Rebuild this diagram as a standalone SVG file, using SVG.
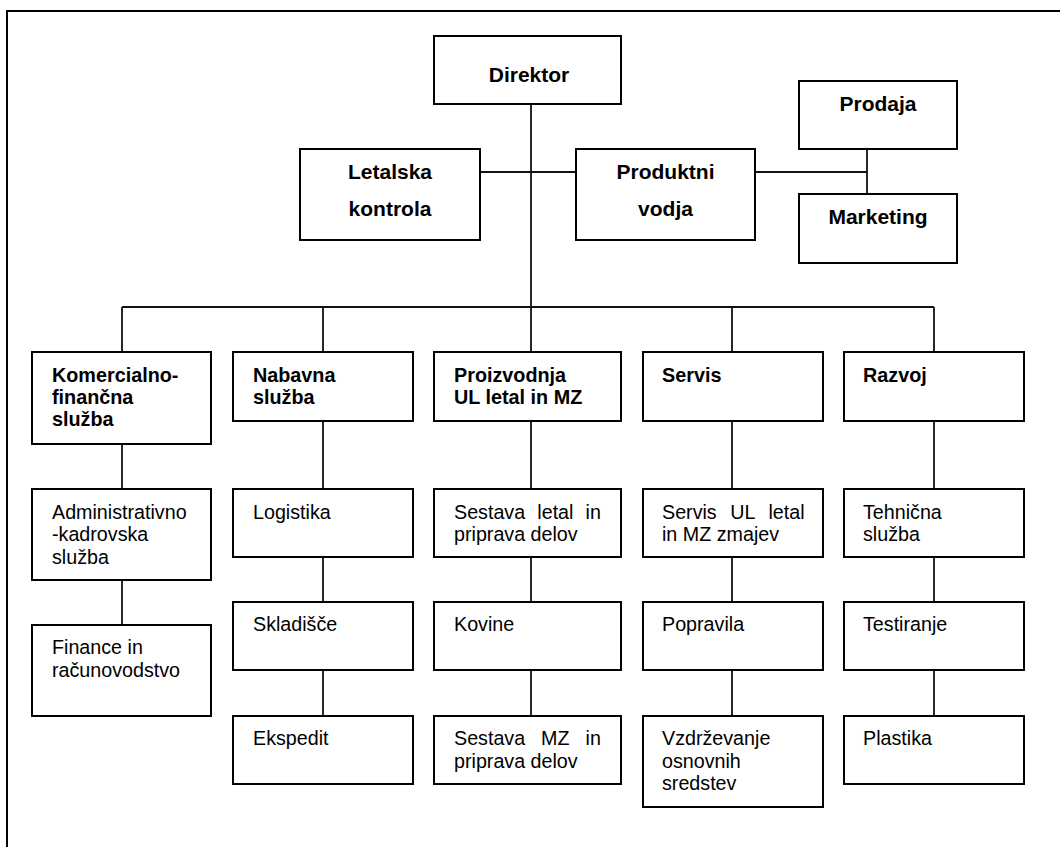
<svg xmlns="http://www.w3.org/2000/svg" width="1060" height="847" viewBox="0 0 1060 847">
  <style>
    .box { fill: #ffffff; stroke: #000000; stroke-width: 2; }
    .link { fill: none; stroke: #111111; stroke-width: 1.8; }
    .frame { fill: none; stroke: #000000; stroke-width: 2; }
    text { font-family: "Liberation Sans", Arial, sans-serif; fill: #000000; }
    .head { font-size: 21px; font-weight: bold; text-anchor: middle; }
    .dept { font-size: 19.8px; font-weight: bold; }
    .unit { font-size: 19.7px; }
  </style>
  <rect width="1060" height="847" fill="#ffffff"/>
  <!-- page frame -->
  <rect class="frame" x="7" y="11" width="1100" height="900"/>

  <!-- connectors -->
  <g id="connectors">
    <path class="link" d="M531 104 V352"/>
    <path class="link" d="M480 172 H576"/>
    <path class="link" d="M755 172 H867"/>
    <path class="link" d="M867 149 V194"/>
    <path class="link" d="M122 307 H934"/>
    <path class="link" d="M122 307 V352 M323 307 V352 M732 307 V352 M934 307 V352"/>
    <path class="link" d="M122 444 V489 M323 421 V489 M531 421 V489 M732 421 V489 M934 421 V489"/>
    <path class="link" d="M122 580 V625 M323 557 V602 M531 557 V602 M732 557 V602 M934 557 V602"/>
    <path class="link" d="M323 670 V716 M531 670 V716 M732 670 V716 M934 670 V716"/>
  </g>

  <!-- top management -->
  <g id="direktor">
    <rect class="box" x="434" y="36" width="187" height="68"/>
    <text class="head" x="529" y="82">Direktor</text>
  </g>
  <g id="letalska-kontrola">
    <rect class="box" x="300" y="149" width="180" height="91"/>
    <text class="head" x="390" y="179">Letalska</text>
    <text class="head" x="390" y="216">kontrola</text>
  </g>
  <g id="produktni-vodja">
    <rect class="box" x="576" y="149" width="179" height="91"/>
    <text class="head" x="665.5" y="179">Produktni</text>
    <text class="head" x="665.5" y="216">vodja</text>
  </g>
  <g id="prodaja">
    <rect class="box" x="799" y="81" width="158" height="68"/>
    <text class="head" x="878" y="111">Prodaja</text>
  </g>
  <g id="marketing">
    <rect class="box" x="799" y="194" width="158" height="69"/>
    <text class="head" x="878" y="224">Marketing</text>
  </g>

  <!-- departments -->
  <g id="komercialno-financna">
    <rect class="box" x="32" y="352" width="179" height="92"/>
    <text class="dept" x="52" y="382">Komercialno-</text>
    <text class="dept" x="52" y="404">finančna</text>
    <text class="dept" x="52" y="426">služba</text>
  </g>
  <g id="nabavna">
    <rect class="box" x="233" y="352" width="180" height="69"/>
    <text class="dept" x="253" y="382">Nabavna</text>
    <text class="dept" x="253" y="404">služba</text>
  </g>
  <g id="proizvodnja">
    <rect class="box" x="434" y="352" width="187" height="69"/>
    <text class="dept" x="454" y="382">Proizvodnja</text>
    <text class="dept" x="454" y="404">UL letal in MZ</text>
  </g>
  <g id="servis">
    <rect class="box" x="643" y="352" width="180" height="69"/>
    <text class="dept" x="662" y="382">Servis</text>
  </g>
  <g id="razvoj">
    <rect class="box" x="844" y="352" width="180" height="69"/>
    <text class="dept" x="863" y="382">Razvoj</text>
  </g>

  <!-- units, second row -->
  <g id="administrativno-kadrovska">
    <rect class="box" x="32" y="489" width="179" height="91"/>
    <text class="unit" x="52" y="518.5">Administrativno</text>
    <text class="unit" x="52" y="541">-kadrovska</text>
    <text class="unit" x="52" y="563.5">služba</text>
  </g>
  <g id="logistika">
    <rect class="box" x="233" y="489" width="180" height="68"/>
    <text class="unit" x="253" y="518.5">Logistika</text>
  </g>
  <g id="sestava-letal">
    <rect class="box" x="434" y="489" width="187" height="68"/>
    <text class="unit" x="454" y="518.5" word-spacing="6.7">Sestava letal in</text>
    <text class="unit" x="454" y="541">priprava delov</text>
  </g>
  <g id="servis-ul">
    <rect class="box" x="643" y="489" width="180" height="68"/>
    <text class="unit" x="662" y="518.5" word-spacing="8.2">Servis UL letal</text>
    <text class="unit" x="662" y="541">in MZ zmajev</text>
  </g>
  <g id="tehnicna-sluzba">
    <rect class="box" x="844" y="489" width="180" height="68"/>
    <text class="unit" x="863" y="518.5">Tehnična</text>
    <text class="unit" x="863" y="541">služba</text>
  </g>

  <!-- units, third row -->
  <g id="finance">
    <rect class="box" x="32" y="625" width="179" height="91"/>
    <text class="unit" x="52" y="654">Finance in</text>
    <text class="unit" x="52" y="676.5">računovodstvo</text>
  </g>
  <g id="skladisce">
    <rect class="box" x="233" y="602" width="180" height="68"/>
    <text class="unit" x="253" y="631">Skladišče</text>
  </g>
  <g id="kovine">
    <rect class="box" x="434" y="602" width="187" height="68"/>
    <text class="unit" x="454" y="631">Kovine</text>
  </g>
  <g id="popravila">
    <rect class="box" x="643" y="602" width="180" height="68"/>
    <text class="unit" x="662" y="631">Popravila</text>
  </g>
  <g id="testiranje">
    <rect class="box" x="844" y="602" width="180" height="68"/>
    <text class="unit" x="863" y="631">Testiranje</text>
  </g>

  <!-- units, fourth row -->
  <g id="ekspedit">
    <rect class="box" x="233" y="716" width="180" height="68"/>
    <text class="unit" x="253" y="745">Ekspedit</text>
  </g>
  <g id="sestava-mz">
    <rect class="box" x="434" y="716" width="187" height="68"/>
    <text class="unit" x="454" y="745" word-spacing="10.5">Sestava MZ in</text>
    <text class="unit" x="454" y="767.5">priprava delov</text>
  </g>
  <g id="vzdrzevanje">
    <rect class="box" x="643" y="716" width="180" height="91"/>
    <text class="unit" x="662" y="745">Vzdrževanje</text>
    <text class="unit" x="662" y="767.5">osnovnih</text>
    <text class="unit" x="662" y="790">sredstev</text>
  </g>
  <g id="plastika">
    <rect class="box" x="844" y="716" width="180" height="68"/>
    <text class="unit" x="863" y="745">Plastika</text>
  </g>
</svg>
